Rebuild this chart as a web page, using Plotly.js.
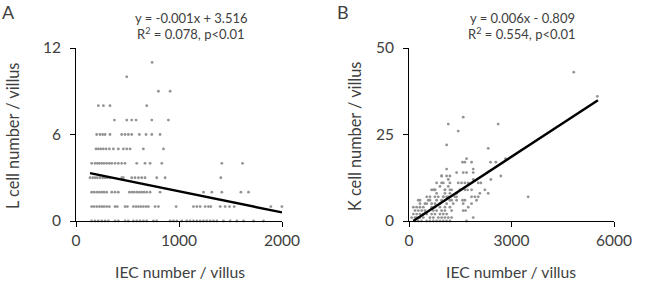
<!DOCTYPE html>
<html><head><meta charset="utf-8">
<script src="https://cdn.plot.ly/plotly-3.0.1.min.js"></script>
<style>html,body{margin:0;padding:0;background:#fff}#chart{width:646px;height:283px}</style>
</head><body><div id="chart"></div>
<script>
// Panel A: L cell number vs IEC number (rows grouped by L cell count)
const lRowCounts = [0,1,2,3,4,5,6,7,8,9,10,11];
const lRowXs = [
  [152,185,217,250,282,314,379,411,476,508,557,590,622,655,687,752,784,914,946,979,1027,1076,1108,1140,1173,1205,1238,1270,1303,1335,1368,1432,1497,1562,1627,1724,1821],
  [152,175,201,227,250,272,298,324,379,401,476,499,557,583,606,629,654,680,703,768,800,972,1140,1173,1205,1254,1286,1309,1400,1448,1490,1536,1892,1999],
  [152,175,201,227,250,272,298,347,379,411,518,541,564,590,615,638,661,687,719,816,1238,1319,1416,1601,1675],
  [136,162,185,207,233,259,282,305,330,444,460,541,573,606,638,670,784,865,1406],
  [152,185,207,227,250,272,298,324,347,379,411,444,476,590,670,719,833,1416,1617],
  [194,217,240,265,292,324,363,411,460,493,525,654,849],
  [201,233,259,282,330,444,476,508,541,615,680,736,816],
  [373,493,541,583,736,897],
  [217,266,330,687],
  [800,914],
  [493],
  [739]
];
// Panel B: K cell number vs IEC number
const kIEC = [
  4822,5513,3487,1880,1685,
  1587,1149,2610,1441,1101,2318,1685,2825,1636,1831,2386,2542,1568,1101,1880,1393,1685,1880,1587,955,1101,2688,1880,2396,
  808,955,1539,1734,2026,2104,1636,711,760,1052,1198,1636,1831,2221,1714,517,857,1003,1101,1393,1831,2026,2074,2318,1928,
  272,1198,1568,1636,1977,467,565,662,1587,1831,1587,1656,1734,
  175,272,370,517,613,711,808,906,1003,1101,1198,
  78,175,224,321,419,613,711,857,955,1052,1149,1247,
  127,224,321,419,517,662,760,906,1003,1101,
  175,272,370,467,711,808,955,1052,1247,
  127,224,321,419,662,760,906,1052,1198,
  321,517,760,906,1101,1295,
  321,613,808,955,1247,1393,
  613,760,1003,1149,1344,
  808,1052,1198,1393,
  662,760,1052,1247,1490,
  906,1149,
  1003,1198,1441,
  1149,
  955,1198
];
const kCells = [
  43,36,7,1,0,
  30,28,28,26,22,21,18,18,17,17,17,17,17,15,15,14,14,14,14,13,13,13,12,12,
  11,11,11,11,11,11,11,9,9,9,9,9,9,9,9,7,7,7,7,7,7,7,8,8,7,
  6,6,6,6,6,5,6,5,5,5,3,3,4,
  0,0,0,0,0,0,0,0,0,0,0,
  1,1,1,1,1,1,1,1,1,1,1,1,
  2,2,2,2,2,2,2,2,2,2,
  3,3,3,3,3,3,3,3,3,
  4,4,4,4,4,4,4,4,4,
  5,5,5,5,5,5,
  6,6,6,6,6,6,
  7,7,7,7,7,
  8,8,8,8,
  9,9,9,9,9,
  10,10,
  11,11,11,
  12,
  13,13
];
// Linear fits (slope, intercept, x extent of drawn line)
const fitA = {slope: -0.00146, intercept: 3.516, from: 136, to: 2000};
const fitB = {slope: 0.00646, intercept: -0.809, from: 125, to: 5530};
const eqA = ['y = -0.001x + 3.516', 'R<sup>2</sup> = 0.078, p<0.01'];
const eqB = ['y = 0.006x - 0.809', 'R<sup>2</sup> = 0.554, p<0.01'];

const lIEC = [], lCells = [];
lRowXs.forEach((xs, i) => xs.forEach(x => { lIEC.push(x); lCells.push(lRowCounts[i]); }));

const FONT = 'Lato, "Open Sans", sans-serif';
const TXT = '#404040';
const mk = {color: '#939393', size: 2.8, symbol: 'circle'};
const fitLine = (f) => ({x: [f.from, f.to], y: [f.slope*f.from + f.intercept, f.slope*f.to + f.intercept]});

const la = fitLine(fitA), lb = fitLine(fitB);
const traces = [
  {type: 'scatter', mode: 'markers', x: lIEC, y: lCells, marker: mk, xaxis: 'x', yaxis: 'y', cliponaxis: false},
  {type: 'scatter', mode: 'lines', x: la.x, y: la.y, line: {color: '#000', width: 2.4}, xaxis: 'x', yaxis: 'y'},
  {type: 'scatter', mode: 'markers', x: kIEC, y: kCells, marker: mk, xaxis: 'x2', yaxis: 'y2', cliponaxis: false},
  {type: 'scatter', mode: 'lines', x: lb.x, y: lb.y, line: {color: '#000', width: 2.4}, xaxis: 'x2', yaxis: 'y2'}
];

const yDom = [1 - 221/283, 1 - 48/283];
const axBase = {
  showgrid: false, zeroline: false, showline: true, linecolor: '#000', linewidth: 1,
  ticks: 'outside', ticklen: 5, tickcolor: '#000', tickwidth: 1,
  tickfont: {family: FONT, size: 15.5, color: TXT}, fixedrange: true
};
const layout = {
  width: 646, height: 283, margin: {l: 0, r: 0, t: 0, b: 0},
  paper_bgcolor: '#fff', plot_bgcolor: '#fff', showlegend: false,
  font: {family: FONT, color: TXT},
  xaxis: Object.assign({}, axBase, {domain: [76/646, 282/646], range: [0, 2000], tickvals: [0, 1000, 2000], anchor: 'y'}),
  yaxis: Object.assign({}, axBase, {domain: yDom, range: [0, 12], tickvals: [0, 6, 12], anchor: 'x', ticklabelstandoff: 6}),
  xaxis2: Object.assign({}, axBase, {domain: [409/646, 614/646], range: [0, 6000], tickvals: [0, 3000, 6000], anchor: 'y2'}),
  yaxis2: Object.assign({}, axBase, {domain: yDom, range: [0, 50], tickvals: [0, 25, 50], anchor: 'x2', ticklabelstandoff: 6}),
  annotations: []
};
const ann = (text, x, y, size, angle) => ({
  text, x: x/646, y: 1 - y/283, xref: 'paper', yref: 'paper', xanchor: 'center', yanchor: 'middle',
  showarrow: false, textangle: angle || 0, font: {family: FONT, size, color: TXT}
});
layout.annotations.push(
  ann('A', 8, 12, 18), ann('B', 343, 12, 18),
  ann(eqA[0], 191, 18, 13), ann(eqA[1], 191, 34, 13),
  ann(eqB[0], 522, 18, 13), ann(eqB[1], 522, 34, 13),
  ann('IEC number / villus', 180, 272, 15.7), ann('IEC number / villus', 511, 272, 15.7),
  ann('L cell number / villus', 12, 136, 16.3, -90), ann('K cell number / villus', 354, 137, 16.3, -90)
);
Plotly.newPlot('chart', traces, layout, {staticPlot: true, displayModeBar: false});
</script></body></html>
